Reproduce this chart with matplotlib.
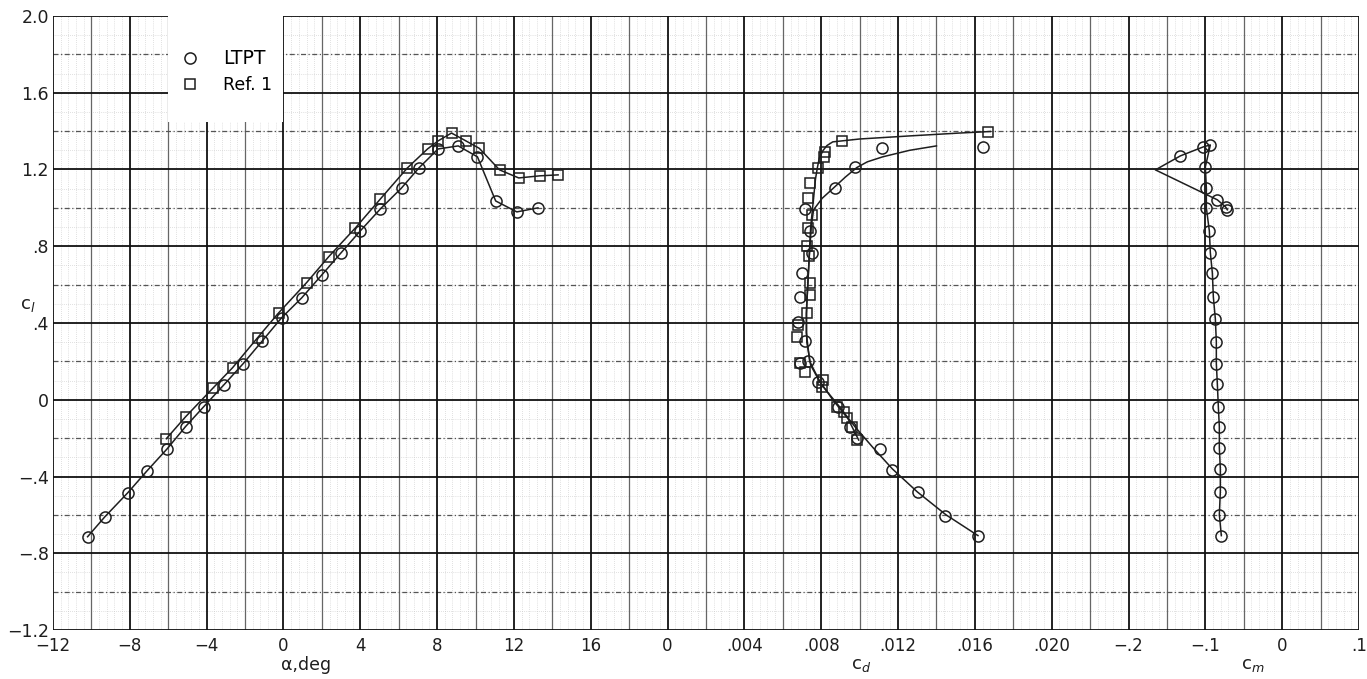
import numpy as np
import matplotlib.pyplot as plt
from matplotlib.patches import Rectangle
from matplotlib.lines import Line2D

# lift curve, LTPT (circles)
alpha_ltpt = [-10.2, -9.3, -8.1, -7.1, -6.05, -5.1, -4.15, -3.1, -2.1, -1.1, -0.1, 0.95,
              2.0, 3.0, 4.0, 5.05, 6.15, 7.05, 8.05, 9.1, 10.1, 11.05, 12.15, 13.25]
cl_ltpt = [-0.714, -0.61, -0.484, -0.37, -0.255, -0.14, -0.036, 0.078, 0.188, 0.307, 0.427, 0.531,
           0.651, 0.766, 0.88, 0.995, 1.104, 1.208, 1.307, 1.323, 1.266, 1.036, 0.979, 1.0]

# lift curve, Ref. 1 (squares)
alpha_ref = [-6.1, -5.1, -3.65, -2.65, -1.35, -0.25, 1.2, 2.35, 3.75, 5.05, 6.45, 7.5,
             8.05, 8.75, 9.5, 10.2, 11.25, 12.25, 13.35, 14.3]
cl_ref = [-0.203, -0.089, 0.063, 0.167, 0.323, 0.453, 0.61, 0.745, 0.896, 1.047, 1.208, 1.307,
          1.349, 1.39, 1.349, 1.31, 1.198, 1.156, 1.167, 1.172]

# drag polar points
cl_cd_ltpt = [-0.708, -0.604, -0.479, -0.365, -0.255, -0.198, -0.14, -0.036, 0.09, 0.19, 0.2,
              0.307, 0.406, 0.536, 0.661, 0.766, 0.88, 0.995, 1.104, 1.214, 1.31, 1.318]
cd_ltpt = [0.01616, 0.01444, 0.01304, 0.01169, 0.01107, 0.00987, 0.0095, 0.00888, 0.00784, 0.0069,
           0.00732, 0.00717, 0.0068, 0.0069, 0.00701, 0.00753, 0.0074, 0.00717, 0.00873, 0.00977,
           0.01117, 0.01642]
cl_cd_ref = [-0.208, -0.14, -0.094, -0.062, -0.036, 0.068, 0.104, 0.146, 0.193, 0.328, 0.39, 0.453,
             0.547, 0.609, 0.75, 0.802, 0.896, 0.964, 1.052, 1.13, 1.208, 1.266, 1.292, 1.349, 1.396]
cd_ref = [0.00987, 0.00961, 0.00935, 0.00920, 0.00883, 0.00805, 0.0081, 0.00715, 0.0069, 0.00675,
          0.0068, 0.00727, 0.00743, 0.00743, 0.00738, 0.00727, 0.00732, 0.00753, 0.00732, 0.00743,
          0.00784, 0.00816, 0.00821, 0.00909, 0.01668]

# faired drag curves
cl_fair_ltpt = [-0.708, -0.6, -0.48, -0.36, -0.25, -0.14, -0.03, 0.08, 0.18, 0.3, 0.45, 0.6, 0.75,
                0.9, 0.99, 1.05, 1.1, 1.16, 1.21, 1.24, 1.266, 1.30, 1.323]
cd_fair_ltpt = [0.01616, 0.0145, 0.013, 0.0117, 0.0107, 0.00975, 0.0089, 0.008, 0.00745, 0.00725,
                0.00722, 0.0073, 0.00738, 0.00748, 0.0076, 0.00805, 0.0086, 0.00925, 0.00985,
                0.0104, 0.0112, 0.0126, 0.0140]
cl_fair_ref = [-0.21, -0.1, 0.0, 0.1, 0.2, 0.35, 0.5, 0.7, 0.9, 1.05, 1.15, 1.21, 1.26, 1.30,
               1.325, 1.344, 1.359, 1.375, 1.39, 1.398]
cd_fair_ref = [0.00995, 0.0094, 0.0086, 0.0079, 0.0074, 0.00722, 0.00725, 0.00735, 0.00745, 0.0076,
               0.0077, 0.0078, 0.0079, 0.0081, 0.0083, 0.0086, 0.0100, 0.0126, 0.0152, 0.0168]

# pitching moment, LTPT
cl_cm = [-0.708, -0.599, -0.479, -0.359, -0.25, -0.14, -0.036, 0.083, 0.188, 0.302, 0.422, 0.536,
         0.661, 0.766, 0.88, 1.0, 1.104, 1.214, 1.318, 1.328, 1.271, 1.042, 1.005, 0.99]
cm_ltpt = [-0.0792, -0.0818, -0.0805, -0.0805, -0.0818, -0.0818, -0.0831, -0.0844, -0.0857, -0.0857,
           -0.087, -0.0896, -0.0909, -0.0935, -0.0948, -0.0987, -0.0987, -0.1, -0.1026, -0.0935,
           -0.1325, -0.0844, -0.0737, -0.0714]
# faired moment curve (runs out to a corner near cm = -.165)
cl_cm_line = [-0.708, -0.599, -0.479, -0.359, -0.25, -0.14, -0.036, 0.083, 0.188, 0.302, 0.422,
              0.536, 0.661, 0.766, 0.88, 1.0, 1.104, 1.214, 1.328, 1.318, 1.271, 1.198, 1.042,
              1.005, 0.99]
cm_line = [-0.0792, -0.0818, -0.0805, -0.0805, -0.0818, -0.0818, -0.0831, -0.0844, -0.0857, -0.0857,
           -0.087, -0.0896, -0.0909, -0.0935, -0.0948, -0.0987, -0.0987, -0.1, -0.0935, -0.1026,
           -0.1325, -0.165, -0.0844, -0.0737, -0.0714]

alpha_ticks = [-12, -8, -4, 0, 4, 8, 12, 16]
cd_ticks = [0, 0.004, 0.008, 0.012, 0.016, 0.020]
cd_labels = ['0', '.004', '.008', '.012', '.016', '.020']
cm_ticks = [-0.2, -0.1, 0.0, 0.1]
cm_labels = ['\u2212.2', '\u2212.1', '0', '.1']
cl_ticks = [-1.2, -0.8, -0.4, 0, 0.4, 0.8, 1.2, 1.6, 2.0]
cl_labels = ['\u22121.2', '\u2212.8', '\u2212.4', '0', '.4', '.8', '1.2', '1.6', '2.0']

INK = '#1e1e1e'
W, H = 1367, 679
X0, X1 = 53, 1359      # pixel columns of the grid
YB, YT = 630, 16       # pixel rows of the grid
NCELL = 17
CELL = (X1 - X0) / NCELL


def box(c0, c1):
    return [(X0 + c0 * CELL) / W, 1 - YB / H, (c1 - c0) * CELL / W, (YB - YT) / H]


fig = plt.figure(figsize=(W / 100, H / 100), dpi=100)

# graph paper
gax = fig.add_axes(box(0, NCELL))
gax.set_xlim(0, NCELL)
gax.set_ylim(-1.2, 2.0)
fine_x = np.arange(0, NCELL + 0.001, 0.1)
gax.vlines(fine_x, -1.2, 2.0, colors='#c4c4c4', lw=0.5, linestyles=(0, (1, 2)), zorder=0.2)
gax.vlines(np.arange(0.5, NCELL, 1), -1.2, 2.0, colors='#666666', lw=0.9, zorder=0.3)
gax.vlines(np.arange(0, NCELL + 1), -1.2, 2.0, colors='#111111', lw=1.3, zorder=0.4)
fine_y = np.arange(-1.2, 2.001, 0.1)
gax.hlines(fine_y, 0, NCELL, colors='#c4c4c4', lw=0.5, linestyles=(0, (1, 2)), zorder=0.2)
gax.hlines(np.arange(-1.0, 2.0, 0.4), 0, NCELL, colors='#555555', lw=0.9,
           linestyles=(0, (4, 2, 1, 2)), zorder=0.3)
gax.hlines(np.arange(-1.2, 2.001, 0.4), 0, NCELL, colors='#111111', lw=1.3, zorder=0.4)
gax.add_patch(Rectangle((1.5, 1.45), 1.5, 0.56, facecolor='white', edgecolor='none', zorder=1))
for s in gax.spines.values():
    s.set_visible(False)
gax.set_xticks([])
gax.set_yticks(cl_ticks)
gax.set_yticklabels(cl_labels)
gax.tick_params(axis='y', length=0, pad=3, labelsize=12.5, labelcolor=INK)
gax.set_ylabel(r'c$_l$', rotation=0, fontsize=13, color=INK)
gax.yaxis.set_label_coords(-0.019, 0.515)


def data_axes(c0, c1, xlim, ticks, labels):
    ax = fig.add_axes(box(c0, c1))
    ax.patch.set_visible(False)
    for s in ax.spines.values():
        s.set_visible(False)
    ax.set_xlim(*xlim)
    ax.set_ylim(-1.2, 2.0)
    ax.set_yticks([])
    ax.set_xticks(ticks)
    ax.set_xticklabels(labels)
    ax.tick_params(axis='x', length=0, pad=5, labelsize=12, labelcolor=INK)
    return ax


line_kw = dict(color=INK, lw=1.1)
circ = dict(ls='none', marker='o', ms=8, mfc='none', mec=INK, mew=1.1)
sqr = dict(ls='none', marker='s', ms=7.5, mfc='none', mec=INK, mew=1.1)

# lift curve
ax_a = data_axes(0, 7, (-12, 16), alpha_ticks,
                 [str(t).replace('-', '\u2212') for t in alpha_ticks])
ax_a.plot(alpha_ltpt, cl_ltpt, **line_kw)
ax_a.plot(alpha_ref, cl_ref, **line_kw)
ax_a.plot(alpha_ltpt, cl_ltpt, **circ)
ax_a.plot(alpha_ref, cl_ref, **sqr)
ax_a.set_xlabel('\u03b1,deg', fontsize=12.5, color=INK)
ax_a.xaxis.set_label_coords(0.47, -0.043)

# drag polar
ax_d = data_axes(8, 13, (0, 0.020), cd_ticks, cd_labels)
ax_d.plot(cd_fair_ltpt, cl_fair_ltpt, **line_kw)
ax_d.plot(cd_fair_ref, cl_fair_ref, **line_kw)
ax_d.plot(cd_ltpt, cl_cd_ltpt, **circ)
ax_d.plot(cd_ref, cl_cd_ref, **sqr)
ax_d.set_xlabel(r'c$_d$', fontsize=13, color=INK)
ax_d.xaxis.set_label_coords(0.505, -0.043)

# pitching moment
ax_m = data_axes(14, 17, (-0.2, 0.1), cm_ticks, cm_labels)
ax_m.plot(cm_line, cl_cm_line, **line_kw)
ax_m.plot(cm_ltpt, cl_cm, **circ)
ax_m.set_xlabel(r'c$_m$', fontsize=13, color=INK)
ax_m.xaxis.set_label_coords(0.54, -0.043)

handles = [Line2D([], [], **circ), Line2D([], [], **sqr)]
leg = fig.legend(handles, ['LTPT', 'Ref. 1'], loc='upper left',
                 bbox_to_anchor=(173 / W, 1 - 40 / H), frameon=False, borderpad=0,
                 handlelength=1.0, handletextpad=1.4, labelspacing=0.5,
                 prop={'size': 12.5})
leg.get_texts()[0].set_fontsize(13.5)

fig.savefig('out.png', dpi=100)
